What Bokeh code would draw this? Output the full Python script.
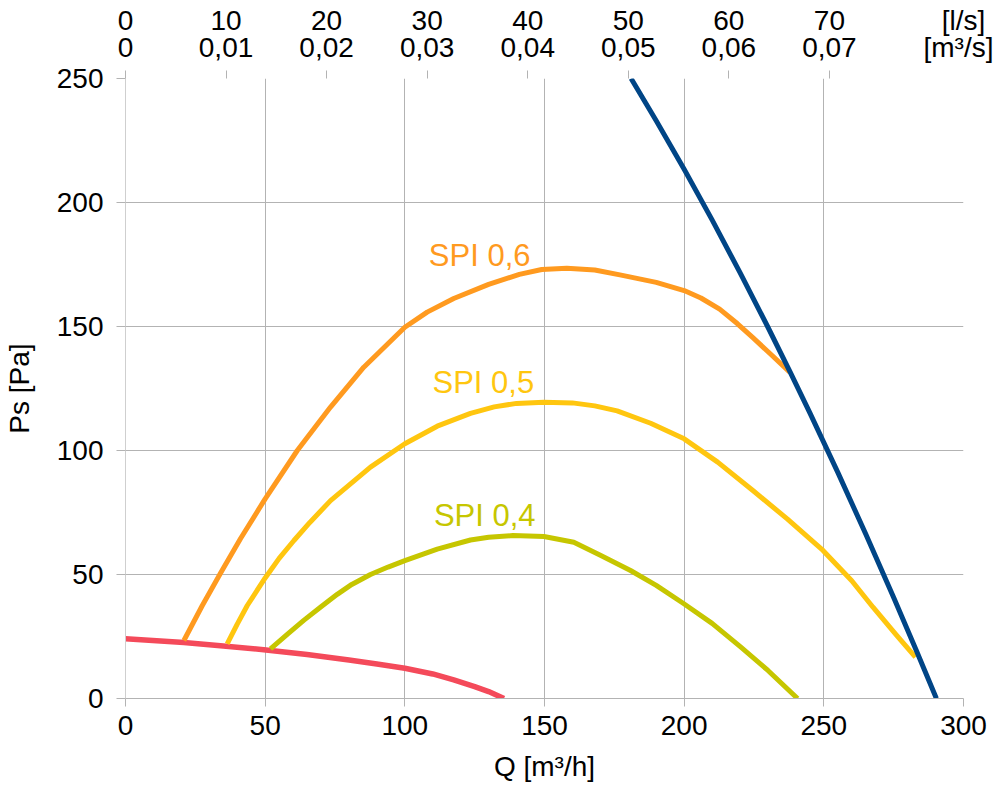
from bokeh.plotting import figure
from bokeh.models import Range1d, LinearAxis, FixedTicker, CustomJSTickFormatter, ColumnDataSource
from bokeh.core.properties import value
from bokeh.embed import file_html
from bokeh.resources import INLINE

# ---------------- data ----------------
q_max = 300
p_max = 250
q_ticks = [0, 50, 100, 150, 200, 250, 300]
p_ticks = [0, 50, 100, 150, 200, 250]
ls_ticks = [0, 10, 20, 30, 40, 50, 60, 70]
m3s_ticks = [0, 0.01, 0.02, 0.03, 0.04, 0.05, 0.06, 0.07]
ls_unit = "[l/s]"
m3s_unit = "[m³/s]"

# system / minimum curve (red)
red_q = [0, 20.9, 35, 49.5, 65, 80, 90, 100, 110, 117.5, 125, 130, 135.5]
red_p = [24.1, 22.6, 21.2, 19.7, 17.7, 15.5, 13.9, 12.2, 9.9, 7.5, 4.8, 2.8, 0]

# maximum fan curve (blue)
blue_q = [181, 190, 200, 210, 220, 230, 238, 245, 255, 265, 275, 283, 290.3]
blue_p = [250, 233.0, 213.4, 193.0, 171.7, 149.7, 131.5, 115.2, 91.2, 66.3, 40.7, 19.7, 0]

# SPI 0,6 (orange)
spi06_q = [20.9, 27.5, 34, 41.2, 50, 61.5, 73.4, 85.3, 100, 108, 117.5, 130, 141, 149, 158,
           168, 177, 190, 200, 206, 212.7, 219, 224.6, 231, 237.8]
spi06_p = [23.4, 37.5, 50.5, 64.5, 80.5, 100, 117.5, 133.6, 149.7, 155.8, 161.3, 167, 171,
           173, 173.5, 172.8, 170.8, 167.8, 164.5, 161.5, 157, 151.2, 145.5, 138.8, 131.6]

# SPI 0,5 (yellow)
spi05_q = [36.4, 40, 43.6, 50, 55, 60.3, 66, 73.4, 87.7, 100, 111.6, 123.5, 132, 140, 149.8,
           160, 168, 176, 188, 200, 212, 224.6, 237, 249.7, 260, 267.6, 276, 282.8]
spi05_p = [22, 30, 37.5, 48.6, 56.5, 63.7, 71, 79.8, 93.3, 102.7, 109.8, 115, 117.6, 119,
           119.5, 119.2, 118, 116, 111, 104.7, 95.3, 83.9, 72.3, 59.7, 47.5, 36.8, 25.6, 16.7]

# SPI 0,4 (green)
spi04_q = [51.9, 58, 63.8, 70, 75.8, 81, 87.7, 94, 100, 111.6, 123.5, 130, 138.7, 149.8,
           160.5, 170, 180.8, 190, 199.9, 210, 220.3, 230, 240.6]
spi04_p = [20, 26, 31.5, 37, 42.0, 46.0, 50.0, 53.0, 55.6, 60.2, 63.9, 65.0, 65.7, 65.3,
           63, 57.8, 51.6, 45.6, 38.2, 30.3, 20.7, 11.3, 0]

spi_texts = ["SPI 0,6", "SPI 0,5", "SPI 0,4"]
spi_label_q = [108.6, 109.9, 110.4]
spi_label_p = [178.6, 127.3, 73.8]

# ---------------- styling ----------------
C_ORANGE = "#ff9a1f"
C_YELLOW = "#ffc60f"
C_GREEN = "#c6c600"
C_RED = "#f44a5a"
C_BLUE = "#004586"
GRID = "#b3b3b3"
FONT = "Liberation Sans"
FS = "28px"

p = figure(frame_width=838, frame_height=620,
           min_border_left=125, min_border_right=30, min_border_top=78, min_border_bottom=90,
           x_range=Range1d(0, q_max), y_range=Range1d(0, p_max),
           output_backend="svg", toolbar_location=None, tools="")
p.outline_line_color = None
p.background_fill_color = "white"
p.border_fill_color = "white"

# bottom axis
xa = p.xaxis[0]
xa.ticker = FixedTicker(ticks=q_ticks)
xa.axis_label = "Q [m³/h]"
xa.axis_line_color = GRID
xa.major_tick_line_color = GRID
xa.major_tick_out = 8
xa.major_tick_in = 0
xa.minor_tick_line_color = None
xa.major_label_standoff = 9
xa.axis_label_standoff = 13

# left axis
ya = p.yaxis[0]
ya.ticker = FixedTicker(ticks=p_ticks)
ya.axis_label = "Ps [Pa]"
ya.axis_line_color = "#cfcfcf"
ya.major_tick_line_color = GRID
ya.major_tick_out = 9
ya.major_tick_in = 0
ya.minor_tick_line_color = None
ya.major_label_standoff = 13
ya.axis_label_standoff = 19

for ax in [xa, ya]:
    ax.major_label_text_font = FONT
    ax.major_label_text_font_size = FS
    ax.major_label_text_color = "black"
    ax.axis_label_text_font = FONT
    ax.axis_label_text_font_size = FS
    ax.axis_label_text_font_style = "normal"
    ax.axis_label_text_color = "black"

p.xgrid.ticker = FixedTicker(ticks=q_ticks)
p.ygrid.ticker = FixedTicker(ticks=p_ticks)
p.xgrid.grid_line_color = GRID
p.ygrid.grid_line_color = GRID

# top axes (l/s and m³/s); the unit text is shown as the label at the right end
ls_end = q_max / 3.6
m3s_end = q_max / 3600
p.extra_x_ranges = {"ls": Range1d(0, ls_end), "m3s": Range1d(0, m3s_end)}

ax_m3s = LinearAxis(
    x_range_name="m3s",
    ticker=FixedTicker(ticks=m3s_ticks + [m3s_end], minor_ticks=m3s_ticks),
    formatter=CustomJSTickFormatter(
        args=dict(unit=m3s_unit, last=m3s_end),
        code="if (tick > last * 0.999) return unit; return tick == 0 ? '0' : tick.toFixed(2).replace('.', ',');"))
ax_m3s.major_tick_out = 8
ax_m3s.major_tick_in = 0
ax_m3s.major_tick_line_color = None
ax_m3s.minor_tick_out = 8
ax_m3s.minor_tick_in = 0
ax_m3s.minor_tick_line_color = GRID
ax_m3s.axis_line_color = None
ax_m3s.major_label_standoff = 8

ax_ls = LinearAxis(
    x_range_name="ls",
    ticker=FixedTicker(ticks=ls_ticks + [ls_end]),
    formatter=CustomJSTickFormatter(
        args=dict(unit=ls_unit, last=ls_end),
        code="if (tick > last * 0.999) return unit; return tick.toFixed(0);"))
ax_ls.major_tick_line_color = None
ax_ls.minor_tick_line_color = None
ax_ls.major_tick_out = 0
ax_ls.major_tick_in = 0
ax_ls.axis_line_color = None
ax_ls.major_label_standoff = -7

for ax in [ax_m3s, ax_ls]:
    ax.major_label_text_font = FONT
    ax.major_label_text_font_size = FS
    ax.major_label_text_color = "black"
p.add_layout(ax_m3s, "above")
p.add_layout(ax_ls, "above")

# curves
p.line(red_q, red_p, line_color=C_RED, line_width=5.5, line_join="round")
p.line(spi06_q, spi06_p, line_color=C_ORANGE, line_width=5, line_join="round")
p.line(spi05_q, spi05_p, line_color=C_YELLOW, line_width=5, line_join="round")
p.line(spi04_q, spi04_p, line_color=C_GREEN, line_width=5, line_join="round")
p.line(blue_q, blue_p, line_color=C_BLUE, line_width=5, line_join="round")

src = ColumnDataSource(dict(x=spi_label_q, y=spi_label_p, t=spi_texts,
                            c=[C_ORANGE, C_YELLOW, C_GREEN]))
p.text(x="x", y="y", text="t", text_color="c", source=src,
       text_font=value(FONT), text_font_size="31px",
       text_align="left", text_baseline="middle")

open("out.html", "w").write(file_html(p, INLINE))
